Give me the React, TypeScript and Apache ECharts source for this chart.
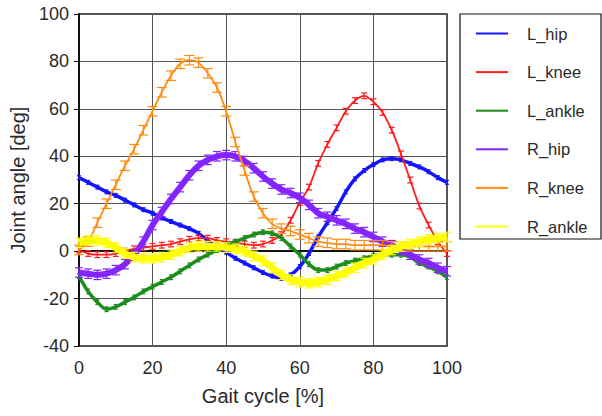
import { useEffect, useRef } from "react";
import * as echarts from "echarts";

const gaitPercent = [
  0, 2.5, 5, 7.5, 10, 12.5, 15, 17.5, 20, 22.5, 25, 27.5, 30, 32.5, 35, 37.5, 40, 42.5, 45, 47.5,
  50, 52.5, 55, 57.5, 60, 62.5, 65, 67.5, 70, 72.5, 75, 77.5, 80, 82.5, 85, 87.5, 90, 92.5, 95, 97.5, 100,
];

const lHip = [
  31, 29, 27, 25, 23.5, 21.5, 19.5, 17.5, 16, 14, 12.5, 11, 9.5, 7.5, 4.5, 1.5, -0.5, -3, -5, -7,
  -9, -10.5, -11.5, -10, -6.5, -1, 6, 12, 18, 25, 30.5, 34, 36.5, 38.5, 39, 38.5, 37, 35.5, 33.5, 31, 29,
];
const lKnee = [
  0.5, -1, -1.5, -1.5, -1, 0, 1, 1.5, 2, 2.5, 3, 4, 5, 5.5, 5.5, 4.5, 4, 3.5, 3, 2.5,
  3, 4.5, 7, 13, 20.5, 27, 37, 45, 52, 59, 63.5, 65.5, 63, 58.5, 51, 41, 30, 19, 11, 4, -1,
];
const lAnkle = [
  -10.5, -17, -21.5, -24.5, -23.5, -21.5, -19.5, -17, -15, -13, -11, -8.5, -6, -3.5, -1.5, 0.5, 2.5, 4, 5.5, 7,
  8, 7.5, 5.5, 2, -1.5, -5.5, -8, -8, -6.5, -5, -4, -3, -2, -1.5, -1.5, -1.5, -2.5, -5, -6.5, -8.5, -11,
];
const rHip = [
  -9, -9.5, -10, -9.5, -8, -5.5, -1.5, 4, 11, 16.5, 22, 27, 32, 36, 38.5, 40, 40.5, 40, 38, 35,
  31.5, 28.5, 26, 24.5, 22.5, 19.5, 16, 14.5, 13, 11.5, 9.5, 8, 6, 4, 2.5, 0.5, -1.5, -3.5, -5, -7, -8.5,
];
const rKnee = [
  0.5, 4, 12, 20, 28, 36, 43, 51, 59, 67, 74, 79, 80.5, 79.5, 75, 69, 59, 46, 34, 23,
  16, 11.5, 9.5, 8.5, 7, 5.5, 4, 3.5, 3, 3, 2.5, 2.5, 2.5, 2.5, 2, 2, 2, 2, 2, 2, 2,
];
const rAnkle = [
  3.5, 4.5, 4.5, 3.5, 1.5, -1, -2.5, -3, -3, -2.5, -1.5, 0, 1.5, 2, 2, 2, 1.5, 1, 0, -2,
  -4, -7, -10, -12, -13, -13.5, -13, -12, -10.5, -9, -7, -5, -3.5, -1.5, 0.5, 2, 3, 4, 5, 5.5, 6,
];

const seriesNames = ["L_hip", "L_knee", "L_ankle", "R_hip", "R_knee", "R_ankle"];
const seriesSpread = [0.8, 1.2, 1, 2, 2, 2];

const xTicks = { min: 0, max: 100, interval: 20 };
const yTicks = { min: -40, max: 100, interval: 20 };

const seriesValues = [lHip, lKnee, lAnkle, rHip, rKnee, rAnkle];
const colors = ["#1414ff", "#ff1c1c", "#1c8c1c", "#8424ff", "#ff8c10", "#ffff00"];
const lineWidths = [3.5, 1.8, 3.5, 6, 1.8, 7];
const capHalf = [2, 3, 2, 4, 5, 4];
const FONT = "Liberation Sans, Arial, sans-serif";

export default function App() {
  const ref = useRef<HTMLDivElement>(null);
  useEffect(() => {
    const chart = echarts.init(ref.current!, null, { renderer: "svg" });
    const series: any[] = [];
    seriesValues.forEach((vals, i) => {
      const color = colors[i];
      series.push({
        type: "line",
        name: seriesNames[i],
        data: gaitPercent.map((x, j) => [x, vals[j]]),
        smooth: 0.3,
        symbol: "none",
        lineStyle: { color, width: lineWidths[i] },
        itemStyle: { color },
        z: 2 + i * 2,
      });
      series.push({
        type: "custom",
        name: seriesNames[i],
        silent: true,
        dimensions: ["x", "y", "s"],
        encode: { x: 0, y: 1 },
        data: gaitPercent.map((x, j) => [x, vals[j], seriesSpread[i]]),
        itemStyle: { color },
        z: 3 + i * 2,
        renderItem: (params: any, api: any) => {
          const x = api.value(0);
          const y = api.value(1);
          const s = api.value(2);
          const top = api.coord([x, y + s]);
          const bot = api.coord([x, y - s]);
          const h = capHalf[i];
          const st = { stroke: color, lineWidth: 1.2 };
          return {
            type: "group",
            children: [
              { type: "line", shape: { x1: top[0], y1: top[1], x2: bot[0], y2: bot[1] }, style: st },
              { type: "line", shape: { x1: top[0] - h, y1: top[1], x2: top[0] + h, y2: top[1] }, style: st },
              { type: "line", shape: { x1: bot[0] - h, y1: bot[1], x2: bot[0] + h, y2: bot[1] }, style: st },
            ],
          };
        },
      });
    });

    const axisCommon = {
      type: "value",
      nameLocation: "middle",
      nameTextStyle: { fontSize: 20, color: "#2a2a2a", fontFamily: FONT },
      axisLine: { show: true, lineStyle: { color: "#111", width: 2 } },
      axisTick: { show: true, inside: false, length: 5, lineStyle: { color: "#111", width: 1 } },
      axisLabel: { fontSize: 18, color: "#2a2a2a", fontFamily: FONT },
      splitLine: { show: true, lineStyle: { color: "#555", width: 1 } },
    };

    chart.setOption({
      animation: false,
      backgroundColor: "#ffffff",
      grid: { left: 78, right: 155, top: 14, bottom: 70, show: true, borderColor: "#222", borderWidth: 1.5 },
      xAxis: { ...axisCommon, ...xTicks, name: "Gait cycle [%]", nameGap: 40, axisLabel: { ...axisCommon.axisLabel, margin: 13 } },
      yAxis: { ...axisCommon, ...yTicks, name: "Joint angle [deg]", nameGap: 46, axisLabel: { ...axisCommon.axisLabel, margin: 10 } },
      legend: {
        orient: "vertical",
        left: 476,
        top: 25,
        padding: 0,
        itemWidth: 32,
        itemHeight: 2,
        itemGap: 21.6,
        z: 10,
        textStyle: { fontSize: 16.5, color: "#2a2a2a", fontFamily: FONT, lineHeight: 16, padding: [0, 0, 0, 14] },
        data: seriesNames.map((n) => ({ name: n, icon: "rect" })),
      },
      graphic: [
        {
          type: "rect",
          z: 0,
          shape: { x: 460, y: 14, width: 141, height: 225 },
          style: { fill: "#fff", stroke: "#111", lineWidth: 1.2 },
        },
      ],
      series,
    });
    return () => chart.dispose();
  }, []);
  return <div ref={ref} style={{ position: "fixed", left: 0, top: 0, width: 602, height: 416 }} />;
}
